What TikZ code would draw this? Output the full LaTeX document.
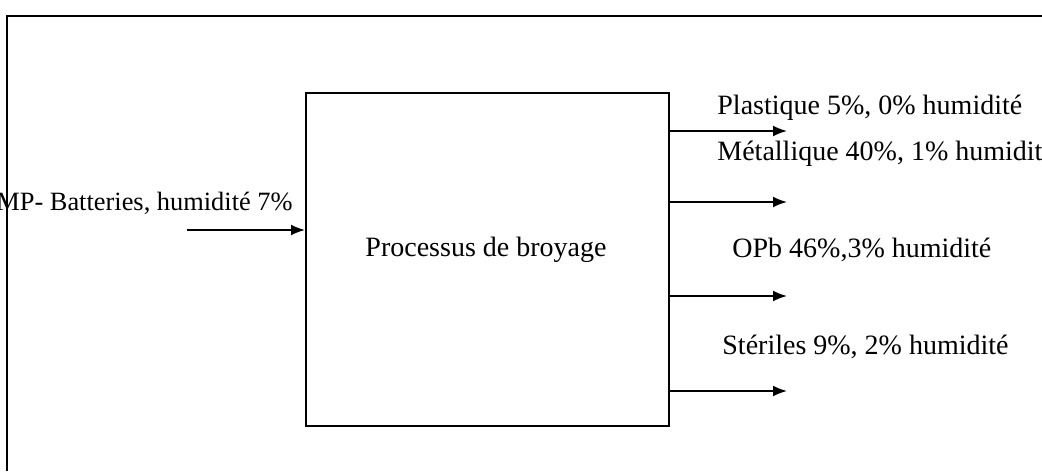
\documentclass[tikz,border=0pt]{standalone}
\usepackage{fontspec}
\setmainfont{Liberation Serif}
\usetikzlibrary{arrows.meta}
\begin{document}
\begin{tikzpicture}[x=0.5pt,y=-0.5pt,
  lbl/.style={font=\fontsize{14}{16}\selectfont, inner sep=0pt},
  flow/.style={line width=0.9pt, -{Latex[length=7pt,width=5.5pt]}},
  frame/.style={line width=1pt}]
\useasboundingbox (0,0) rectangle (1042,471);
\clip (0,0) rectangle (1042,471);
\fill[white] (0,0) rectangle (1042,471);
% box
\node[draw, line width=0.8pt, minimum width=181.5pt, minimum height=166.5pt, inner sep=0pt, anchor=north west] (proc) at (305,92) {};
\node[lbl] (proclbl) at (486,250) {Processus de broyage};
% input
\coordinate (in) at (187,230);
\draw[flow] (in) -- (in -| proc.west);
\node[lbl, anchor=east, font=\fontsize{13.2}{15}\selectfont] (inlbl) at (293,203) {MP- Batteries, humidité 7\%};
% outputs
\coordinate (o1) at (787,131);
\coordinate (o2) at (787,202);
\coordinate (o3) at (787,296);
\coordinate (o4) at (787,391);
\foreach \o in {o1,o2,o3,o4}{\draw[flow] (\o -| proc.east) -- (\o);}
\node[lbl, anchor=west] (l1) at (717,108) {Plastique 5\%, 0\% humidité};
\node[lbl, anchor=west] (l2) at (717,154) {Métallique 40\%, 1\% humidité};
\node[lbl, anchor=west] (l3) at (732,250) {OPb 46\%,3\% humidité};
\node[lbl, anchor=west] (l4) at (722,347) {Stériles 9\%, 2\% humidité};
% outer frame
\draw[frame] (7,471) -- (7,16) -- (1042,16);
\end{tikzpicture}
\end{document}
